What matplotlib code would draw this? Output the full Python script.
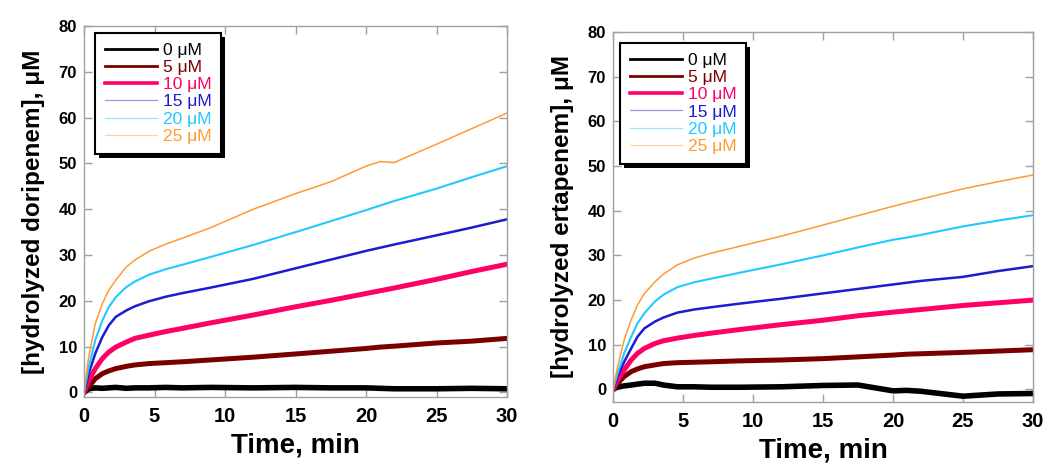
import matplotlib
matplotlib.use("Agg")
import matplotlib.pyplot as plt
import matplotlib.patheffects as pe

plt.rcParams['font.family'] = ['Liberation Sans', 'DejaVu Sans']

# ---- data ----
times = [0, 0.33, 0.8, 1.3, 1.75, 2.25, 3, 3.6, 4.6, 5.8, 7, 9, 12, 15, 17.5, 20, 21, 22, 25, 27.5, 30]
labels = ["0 μM", "5 μM", "10 μM", "15 μM", "20 μM", "25 μM"]

dori_0 = [0, 0.8, 1.0, 0.9, 1.0, 1.1, 0.9, 1.0, 1.0, 1.1, 1.0, 1.1, 1.0, 1.1, 1.0, 1.0, 0.9, 0.8, 0.8, 0.9, 0.8]
dori_5 = [0, 1.2, 3.0, 4.1, 4.7, 5.2, 5.7, 6.0, 6.3, 6.5, 6.7, 7.1, 7.7, 8.4, 9.0, 9.6, 9.9, 10.1, 10.8, 11.2, 11.8]
dori_10 = [0, 2.6, 5.2, 7.4, 8.8, 9.9, 11.0, 11.8, 12.5, 13.3, 14.0, 15.2, 16.9, 18.7, 20.1, 21.6, 22.2, 22.8, 24.7, 26.4, 28.0]
dori_15 = [0, 4.1, 8.5, 12.1, 14.6, 16.5, 17.9, 18.8, 19.9, 20.9, 21.7, 22.9, 24.8, 27.1, 29.0, 30.9, 31.6, 32.3, 34.3, 36.0, 37.8]
dori_20 = [0, 5.5, 11.4, 15.7, 18.6, 20.8, 23.0, 24.2, 25.7, 26.9, 27.9, 29.6, 32.2, 35.0, 37.4, 39.8, 40.8, 41.8, 44.5, 47.0, 49.4]
dori_25 = [0, 7.7, 15.0, 19.4, 22.3, 24.5, 27.4, 28.9, 30.8, 32.4, 33.7, 36.0, 40.0, 43.4, 46.0, 49.4, 50.4, 50.2, 54.2, 57.6, 61.0]

erta_0 = [0, 0.6, 0.8, 1.0, 1.2, 1.4, 1.4, 1.0, 0.6, 0.6, 0.5, 0.5, 0.6, 0.9, 1.0, -0.3, -0.2, -0.4, -1.5, -1.0, -0.9]
erta_5 = [0, 1.4, 2.9, 4.0, 4.6, 5.1, 5.5, 5.8, 6.0, 6.1, 6.2, 6.4, 6.6, 6.9, 7.3, 7.7, 7.9, 8.0, 8.3, 8.6, 8.9]
erta_10 = [0, 2.1, 4.4, 6.6, 8.1, 9.2, 10.3, 10.9, 11.5, 12.1, 12.6, 13.4, 14.5, 15.5, 16.5, 17.3, 17.6, 17.9, 18.8, 19.4, 20.0]
erta_15 = [0, 2.9, 6.2, 9.2, 11.8, 13.7, 15.2, 16.1, 17.2, 17.9, 18.4, 19.2, 20.3, 21.5, 22.5, 23.5, 23.9, 24.3, 25.2, 26.5, 27.6]
erta_20 = [0, 3.6, 8.1, 11.8, 14.8, 17.1, 19.7, 21.2, 22.9, 24.0, 24.8, 26.1, 28.0, 30.0, 31.8, 33.5, 34.0, 34.6, 36.5, 37.8, 39.0]
erta_25 = [0, 5.1, 11.1, 15.6, 18.9, 21.5, 24.1, 25.8, 27.9, 29.4, 30.5, 32.0, 34.3, 36.8, 38.9, 41.0, 41.8, 42.6, 44.9, 46.5, 48.0]

colors = ["#000000", "#7a0000", "#ff0066", "#1c1cd0", "#22c8ff", "#ff9a33"]
widths = [4.0, 3.6, 3.6, 1.8, 1.5, 1.1]
legend_widths = [2.0, 2.0, 2.6, 0.9, 0.9, 0.9]
legend_alpha = [1, 1, 1, 0.45, 0.45, 0.45]

fig = plt.figure(figsize=(10.5, 4.74), dpi=100)
ax1 = fig.add_axes([0.080, 0.1624, 0.4029, 0.7827])
ax2 = fig.add_axes([0.5838, 0.1519, 0.400, 0.7806])

panels = [
    (ax1, [dori_0, dori_5, dori_10, dori_15, dori_20, dori_25], "[hydrolyzed doripenem], μM", (-1.0, 80), (0.026, 0.981)),
    (ax2, [erta_0, erta_5, erta_10, erta_15, erta_20, erta_25], "[hydrolyzed ertapenem], μM", (-2.8, 80), (0.017, 0.970)),
]

for ax, series, ylab, ylim, anchor in panels:
    for vals, c, w, lab in zip(series, colors, widths, labels):
        ax.plot(times, vals, color=c, lw=w, label=lab, solid_joinstyle='round')
    ax.set_xlim(0, 30)
    ax.set_ylim(*ylim)
    ax.set_xticks(range(0, 31, 5))
    ax.set_yticks(range(0, 81, 10))
    for s in ax.spines.values():
        s.set_color('#a0a0a0')
        s.set_linewidth(1.0)
    ax.tick_params(direction='in', length=6, width=1.0, color='#a0a0a0',
                   top=True, right=True, labelcolor='black')
    for t in ax.get_xticklabels():
        t.set_fontsize(14.5)
        t.set_fontweight('bold')
    for t in ax.get_yticklabels():
        t.set_fontsize(12)
        t.set_fontweight('bold')
    ax.tick_params(axis='x', pad=7)
    ax.tick_params(axis='y', pad=5)
    ax.set_xlabel("Time, min", fontsize=20, fontweight='bold', labelpad=5)
    ax.set_ylabel(ylab, fontsize=17.5, fontweight='bold', labelpad=10)
    leg = ax.legend(loc='upper left', bbox_to_anchor=anchor, borderaxespad=0,
                    fancybox=False, shadow=False,
                    edgecolor='black', framealpha=1, labelcolor='linecolor',
                    fontsize=12.5, handlelength=3.0, handletextpad=0.35,
                    labelspacing=0.12, borderpad=0.55)
    frame = leg.get_frame()
    frame.set_linewidth(1.5)
    frame.set_path_effects([pe.SimplePatchShadow(offset=(3, -3), shadow_rgbFace='black', alpha=1.0),
                            pe.Normal()])
    for ln, lw, a in zip(leg.get_lines(), legend_widths, legend_alpha):
        ln.set_linewidth(lw)
        ln.set_alpha(a)

fig.savefig("out.png", dpi=100)
